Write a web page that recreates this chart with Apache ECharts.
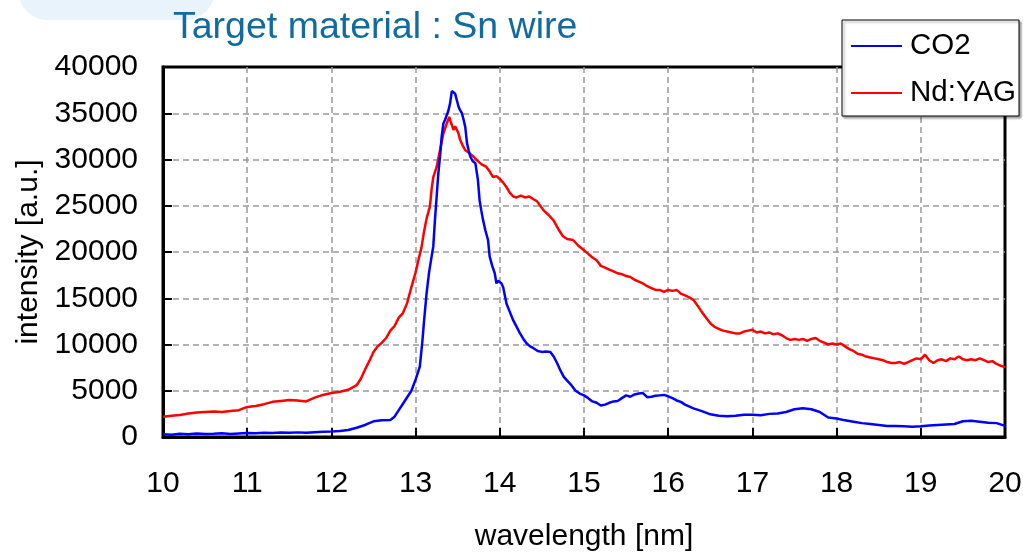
<!DOCTYPE html>
<html>
<head>
<meta charset="utf-8">
<script src="https://cdn.jsdelivr.net/npm/echarts@6/dist/echarts.min.js"></script>
<style>
html,body{margin:0;padding:0;background:#fff;}
#chart{width:1023px;height:552px;}
</style>
</head>
<body>
<div id="chart"></div>
<script>
const titleText = 'Target material : Sn wire';
const xName = 'wavelength [nm]';
const yName = 'intensity [a.u.]';
const seriesNames = ['CO2', 'Nd:YAG'];

const co2Wl = [10.0,10.1,10.2,10.3,10.4,10.5,10.6,10.7,10.8,10.9,11.0,11.1,11.2,11.3,11.4,11.5,11.6,11.7,11.8,11.9,12.0,12.1,12.2,12.3,12.4,12.5,12.6,12.7,12.75,12.8,12.85,12.9,12.95,13.0,13.05,13.08,13.1,13.13,13.16,13.19,13.21,13.23,13.25,13.27,13.29,13.31,13.33,13.35,13.37,13.39,13.41,13.43,13.45,13.47,13.49,13.51,13.53,13.55,13.57,13.59,13.61,13.63,13.65,13.68,13.71,13.74,13.76,13.78,13.80,13.83,13.86,13.88,13.91,13.94,13.96,13.98,14.00,14.02,14.04,14.06,14.08,14.12,14.16,14.20,14.24,14.28,14.32,14.36,14.40,14.45,14.50,14.55,14.60,14.64,14.68,14.72,14.76,14.80,14.85,14.9,14.95,15.0,15.05,15.1,15.15,15.2,15.25,15.3,15.35,15.4,15.45,15.5,15.55,15.6,15.65,15.7,15.75,15.8,15.85,15.9,15.95,16.0,16.05,16.1,16.15,16.2,16.3,16.4,16.5,16.6,16.7,16.8,16.9,17.0,17.1,17.2,17.3,17.4,17.5,17.6,17.7,17.8,17.9,18.0,18.1,18.2,18.3,18.4,18.5,18.6,18.7,18.8,18.9,19.0,19.1,19.2,19.3,19.4,19.5,19.6,19.7,19.8,19.9,20.0];
const co2Int = [300,250,350,300,380,320,350,400,330,380,420,400,450,420,480,450,500,470,520,560,600,650,750,1000,1300,1700,1800,1850,2200,2900,3600,4300,5000,6200,7600,10300,12500,15500,17800,19500,20600,23500,26000,28500,30300,32500,33900,34300,34800,35300,36100,37400,37200,37100,36400,35700,35300,35000,34300,33500,31800,31000,30300,29800,29600,27800,25600,24500,23500,22300,21300,19500,18500,17700,16600,16900,17100,16600,16200,15300,14400,13500,12600,11900,11200,10600,10100,9800,9600,9300,9200,9250,9200,8700,8000,7200,6500,6100,5600,5000,4700,4500,4200,3850,3700,3400,3500,3700,3850,3900,4200,4500,4350,4600,4700,4750,4300,4350,4450,4500,4550,4400,4200,3950,3800,3500,3100,2800,2450,2300,2250,2300,2400,2400,2350,2500,2550,2700,3000,3100,3000,2700,2100,2000,1800,1650,1500,1400,1300,1200,1200,1150,1100,1150,1250,1300,1350,1400,1700,1750,1650,1550,1500,1200];

const yagWl = [10.0,10.1,10.2,10.3,10.4,10.5,10.6,10.7,10.8,10.9,11.0,11.1,11.2,11.3,11.4,11.5,11.6,11.7,11.8,11.9,12.0,12.1,12.2,12.3,12.35,12.4,12.45,12.5,12.55,12.6,12.65,12.7,12.75,12.8,12.85,12.9,12.95,13.0,13.03,13.07,13.1,13.13,13.17,13.19,13.21,13.25,13.29,13.33,13.37,13.40,13.42,13.45,13.47,13.49,13.51,13.53,13.56,13.59,13.62,13.65,13.69,13.73,13.78,13.84,13.88,13.92,13.96,14.0,14.04,14.08,14.12,14.16,14.2,14.25,14.3,14.35,14.4,14.44,14.48,14.52,14.58,14.64,14.7,14.75,14.8,14.87,14.93,15.0,15.05,15.1,15.15,15.2,15.25,15.3,15.35,15.4,15.45,15.5,15.55,15.6,15.65,15.7,15.75,15.8,15.85,15.9,15.95,16.0,16.05,16.1,16.15,16.2,16.25,16.3,16.35,16.4,16.45,16.5,16.55,16.6,16.65,16.7,16.75,16.8,16.85,16.9,16.95,17.0,17.05,17.1,17.15,17.2,17.25,17.3,17.35,17.4,17.45,17.5,17.55,17.6,17.65,17.7,17.75,17.8,17.85,17.9,17.95,18.0,18.05,18.1,18.15,18.2,18.25,18.3,18.35,18.4,18.45,18.5,18.55,18.6,18.65,18.7,18.75,18.8,18.85,18.9,18.95,19.0,19.05,19.1,19.15,19.2,19.25,19.3,19.35,19.4,19.45,19.5,19.55,19.6,19.65,19.7,19.75,19.8,19.85,19.9,19.95,20.0];
const yagInt = [2200,2300,2380,2550,2650,2700,2750,2700,2800,2900,3250,3350,3550,3800,3900,4000,3950,3850,4250,4550,4750,4900,5100,5600,6300,7300,8200,9200,9800,10200,10700,11500,12000,12900,13400,14500,16200,17800,19000,20500,22200,23600,24900,26800,28100,29200,31000,32800,33900,34600,34000,33200,33600,33500,32800,32100,31500,31000,30800,30600,30300,29900,29500,29200,28700,28100,28200,27900,27500,27000,26400,26000,25900,26100,25900,26000,25700,25500,25000,24500,24000,23400,22400,21700,21400,21300,20700,20200,19800,19400,19100,18500,18300,18100,17900,17700,17600,17400,17300,17000,16800,16600,16300,16100,15900,15900,15700,15900,15800,15900,15500,15300,15100,14800,14200,13500,12900,12300,11900,11700,11500,11400,11300,11200,11200,11400,11500,11600,11300,11400,11200,11300,11100,11200,11000,10700,10500,10600,10500,10600,10400,10600,10700,10400,10200,10000,10100,10000,10100,9800,9500,9300,9000,8900,8700,8600,8500,8400,8300,8100,8000,8000,8100,7900,8100,8300,8500,8400,8900,8300,8000,8300,8400,8200,8500,8400,8700,8400,8300,8400,8300,8500,8300,8100,8200,7900,7700,7550];

const xMin = 10, xMax = 20, xStep = 1;
const yMin = 0, yMax = 40000, yStep = 5000;

const FONT = '"Liberation Sans", Arial, sans-serif';

function pairs(xs, ys) { return xs.map((x, i) => [x, ys[i]]); }

const chart = echarts.init(document.getElementById('chart'), null, {renderer: 'canvas'});
chart.setOption({
  backgroundColor: '#fff',
  animation: false,
  graphic: [{
    type: 'rect', z: -10, silent: true,
    shape: {x: 18, y: -40, width: 197, height: 60, r: 30},
    style: {fill: '#e8f3fc'}
  }],
  title: {
    text: titleText, left: 168, top: 4,
    textStyle: {fontFamily: FONT, fontSize: 37.5, fontWeight: 'normal', color: '#116aa0'}
  },
  legend: {
    data: seriesNames, orient: 'vertical', left: 842, top: 20,
    padding: [10, 3, 7, 9], itemGap: 15, itemWidth: 51, itemHeight: 2, icon: 'rect',
    backgroundColor: '#fff', borderColor: '#000', borderWidth: 1,
    shadowColor: 'rgba(0,0,0,0.35)', shadowBlur: 2, shadowOffsetX: 2, shadowOffsetY: 2,
    textStyle: {fontFamily: FONT, fontSize: 29.5, color: '#000', lineHeight: 32, padding: [0,0,0,3]},
    z: 10
  },
  grid: {
    left: 163, right: 18, top: 67, bottom: 115,
    show: true, borderColor: '#000', borderWidth: 3,
    outerBoundsMode: 'none', containLabel: false
  },
  xAxis: {
    type: 'value', min: xMin, max: xMax, interval: xStep,
    name: xName, nameLocation: 'middle', nameGap: 85,
    nameTextStyle: {fontFamily: FONT, fontSize: 30, color: '#000'},
    axisLine: {show: true, lineStyle: {color: '#000', width: 3}},
    axisTick: {show: true, inside: true, length: 9, lineStyle: {color: '#000', width: 2}},
    axisLabel: {fontFamily: FONT, fontSize: 30, color: '#000', margin: 32},
    splitLine: {show: true, showMinLine: false, showMaxLine: false, lineStyle: {color: '#999', width: 1.5, type: [6, 4]}}
  },
  yAxis: {
    type: 'value', min: yMin, max: yMax, interval: yStep,
    name: yName, nameLocation: 'middle', nameGap: 114,
    nameTextStyle: {fontFamily: FONT, fontSize: 30, color: '#000'},
    axisLine: {show: true, lineStyle: {color: '#000', width: 3}},
    axisTick: {show: true, inside: true, length: 9, lineStyle: {color: '#000', width: 2}},
    axisLabel: {fontFamily: FONT, fontSize: 30, color: '#000', margin: 25, formatter: v => String(v)},
    splitLine: {show: true, showMinLine: false, showMaxLine: false, lineStyle: {color: '#999', width: 1.5, type: [6, 4]}}
  },
  series: [
    {name: seriesNames[1], type: 'line', data: pairs(yagWl, yagInt), showSymbol: false,
     lineStyle: {color: '#ff0000', width: 2.5}, itemStyle: {color: '#ff0000'}},
    {name: seriesNames[0], type: 'line', data: pairs(co2Wl, co2Int), showSymbol: false,
     lineStyle: {color: '#0000ff', width: 2.5}, itemStyle: {color: '#0000ff'}}
  ]
});
</script>
</body>
</html>
